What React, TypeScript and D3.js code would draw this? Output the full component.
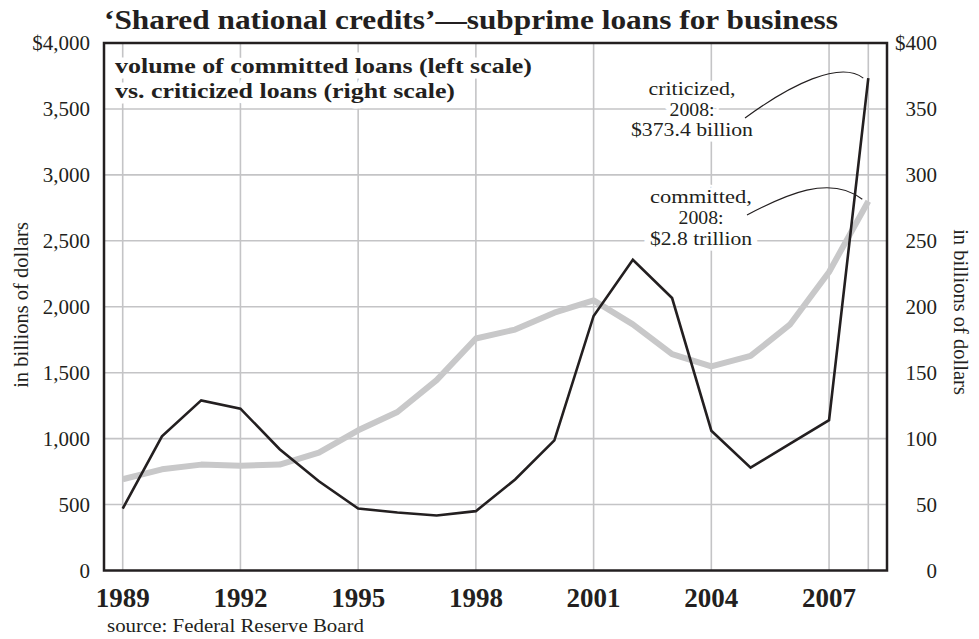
import React from "react";
import * as d3 from "d3";

const years = [1989,1990,1991,1992,1993,1994,1995,1996,1997,1998,1999,2000,2001,2002,2003,2004,2005,2006,2007,2008];
const committed = [692,767,803,795,803,894,1063,1202,1444,1759,1827,1955,2048,1866,1640,1548,1627,1864,2264,2800];
const criticized = [47,101.7,129,122.7,92,67.7,47,44,41.7,45,69,98.7,193,235.6,206.6,106,78,96,114,373.4];
const leftTicks = [0,500,1000,1500,2000,2500,3000,3500,4000];
const rightTicks = [0,50,100,150,200,250,300,350,400];
const yearTicks = [1989,1992,1995,1998,2001,2004,2007];
const gridYears = [1989,1992,1995,1998,2001,2004,2007,2008];
const critLabel = ["criticized,", "2008:", "$373.4 billion"];
const commLabel = ["committed,", "2008:", "$2.8 trillion"];
const critWidths = [87, 45, 122];
const commWidths = [102, 45, 102];

const FONT = "Liberation Serif, Times New Roman, Tinos, serif";
const INK = "#231f20";

export default function App() {
  const L = 104, R = 887, T = 43, B = 570.5;
  const x = d3.scaleLinear().domain([1989, 2008]).range([122.7, 868.3]);
  const yL = d3.scaleLinear().domain([0, 4000]).range([B, T]);
  const yR = d3.scaleLinear().domain([0, 400]).range([B, T]);

  const lineC = d3.line<number>().x((_, i) => x(years[i])).y(d => yL(d));
  const lineK = d3.line<number>().x((_, i) => x(years[i])).y(d => yR(d));

  const lastYear = years[years.length - 1];
  const kEnd: [number, number] = [x(lastYear) - 5, yR(criticized[criticized.length - 1])];
  const cEnd: [number, number] = [x(lastYear) - 6, yL(committed[committed.length - 1]) - 2];
  const kPath = `M745,118 C790,85 840,60 ${kEnd[0]},${kEnd[1]}`;
  const cPath = `M747,215 C785,195 830,174 ${cEnd[0]},${cEnd[1]}`;

  const halo = { stroke: "#fff", strokeWidth: 11, paintOrder: "stroke" as const, strokeLinejoin: "round" as const };

  return (
    <svg width={979} height={639} style={{ position: "absolute", left: 0, top: 0, background: "#fff", fontFamily: FONT }}>
      <rect x={0} y={0} width={979} height={639} fill="#fff" />
      {leftTicks.filter(t => t > 0 && t < 4000).map(t => (
        <line key={"h" + t} x1={L} x2={R} y1={yL(t)} y2={yL(t)} stroke="#c4c4c6" strokeWidth={1.6} />
      ))}
      {gridYears.map(yr => (
        <line key={"v" + yr} x1={x(yr)} x2={x(yr)} y1={B} y2={T} stroke="#c4c4c6" strokeWidth={1.6} />
      ))}
      <g fontWeight="bold" fontSize={21} fill={INK} {...halo}>
        <text x={115} y={73} textLength={417} lengthAdjust="spacingAndGlyphs">volume of committed loans (left scale)</text>
        <text x={115} y={98} textLength={340} lengthAdjust="spacingAndGlyphs">vs. criticized loans (right scale)</text>
      </g>
      <g fontSize={18.2} fill={INK} textAnchor="middle" {...halo}>
        {critLabel.map((s, i) => (
          <text key={"k" + i} x={692} y={95 + i * 20.5} textLength={critWidths[i]} lengthAdjust="spacingAndGlyphs">{s}</text>
        ))}
        {commLabel.map((s, i) => (
          <text key={"c" + i} x={701} y={203 + i * 21} textLength={commWidths[i]} lengthAdjust="spacingAndGlyphs">{s}</text>
        ))}
      </g>
      <path d={lineC(committed) || ""} fill="none" stroke="#c8c8c9" strokeWidth={6} strokeLinejoin="round" />
      <path d={lineK(criticized) || ""} fill="none" stroke={INK} strokeWidth={2.6} strokeLinejoin="miter" />
      <path d={kPath} fill="none" stroke={INK} strokeWidth={1.1} />
      <path d={cPath} fill="none" stroke={INK} strokeWidth={1.1} />
      <rect x={L} y={T} width={R - L} height={B - T} fill="none" stroke={INK} strokeWidth={2.5} />
      <g fontSize={21} fill={INK} textAnchor="end">
        {leftTicks.map(t => (
          <text key={"l" + t} x={90} y={yL(t) + 7}>{t === 4000 ? "$4,000" : d3.format(",")(t)}</text>
        ))}
      </g>
      <g fontSize={21} fill={INK} textAnchor="end">
        {rightTicks.map(t => (
          <text key={"r" + t} x={937} y={yR(t) + 7}>{t === 400 ? "$400" : String(t)}</text>
        ))}
      </g>
      <g fontSize={27} fontWeight="bold" fill={INK} textAnchor="middle">
        {yearTicks.map(yr => (
          <text key={"y" + yr} x={x(yr)} y={607}>{yr}</text>
        ))}
      </g>
      <text transform="translate(28,305) rotate(-90)" textAnchor="middle" fontSize={20.5} fill={INK}>in billions of dollars</text>
      <text transform="translate(954,312) rotate(90)" textAnchor="middle" fontSize={20.5} fill={INK}>in billions of dollars</text>
      <text x={104} y={29} fontSize={28} fontWeight="bold" fill={INK} textLength={734} lengthAdjust="spacingAndGlyphs">‘Shared national credits’—subprime loans for business</text>
      <text x={107} y={632} fontSize={18.5} fill={INK} textLength={257} lengthAdjust="spacingAndGlyphs">source: Federal Reserve Board</text>
    </svg>
  );
}
